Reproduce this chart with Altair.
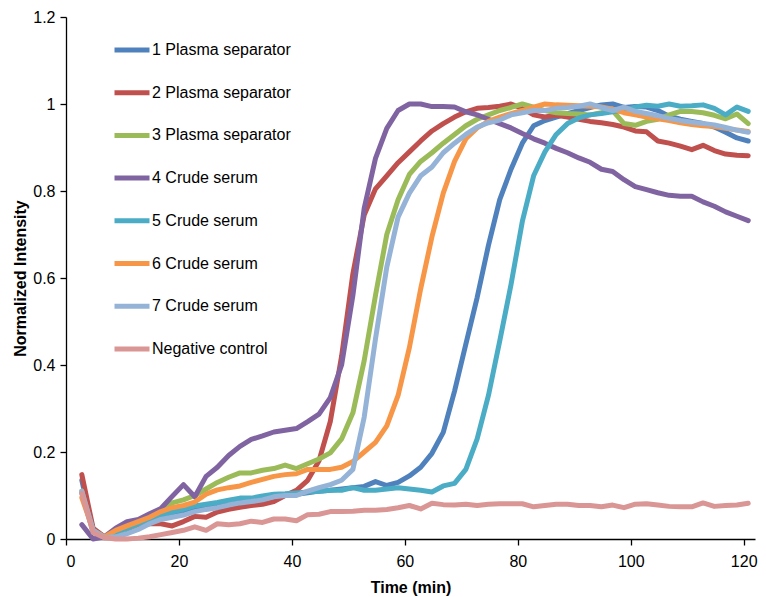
import altair as alt
import pandas as pd

times = [2.8, 4.8, 6.8, 8.8, 10.8, 12.8, 14.8, 16.8, 18.8, 20.8,
         22.8, 24.8, 26.8, 28.8, 30.8, 32.8, 34.8, 36.8, 38.8, 40.8,
         42.8, 44.8, 46.8, 48.8, 50.8, 52.8, 54.8, 56.8, 58.8, 60.8,
         62.8, 64.8, 66.8, 68.8, 70.8, 72.8, 74.8, 76.8, 78.8, 80.8,
         82.8, 84.8, 86.8, 88.8, 90.8, 92.8, 94.8, 96.8, 98.8, 100.8,
         102.8, 104.8, 106.8, 108.8, 110.8, 112.8, 114.8, 116.8, 118.8, 120.8]

s1_plasma = [0.135, 0.02, 0.005, 0.012, 0.022, 0.03, 0.04, 0.05, 0.055, 0.06,
             0.066, 0.072, 0.076, 0.081, 0.086, 0.088, 0.092, 0.097, 0.1, 0.103,
             0.106, 0.11, 0.112, 0.115, 0.118, 0.121, 0.132, 0.123, 0.13, 0.145,
             0.165, 0.197, 0.245, 0.34, 0.448, 0.555, 0.675, 0.78, 0.85, 0.91,
             0.95, 0.962, 0.97, 0.978, 0.985, 0.992, 0.998, 1.0, 0.992, 0.994,
             0.993, 0.985, 0.972, 0.965, 0.96, 0.955, 0.947, 0.935, 0.922, 0.915]

s2_plasma = [0.148, 0.025, 0.005, 0.015, 0.025, 0.03, 0.035, 0.035, 0.03, 0.04,
             0.052, 0.05, 0.062, 0.068, 0.073, 0.077, 0.08, 0.086, 0.1, 0.112,
             0.135, 0.18, 0.27, 0.42, 0.61, 0.745, 0.805, 0.835, 0.865, 0.89,
             0.915, 0.938, 0.955, 0.97, 0.982, 0.99, 0.992, 0.995, 1.0, 0.99,
             0.975, 0.97, 0.974, 0.97, 0.965, 0.96, 0.957, 0.953, 0.947, 0.938,
             0.936, 0.915, 0.91, 0.903, 0.895, 0.905, 0.893, 0.885, 0.882, 0.881]

s3_plasma = [0.11, 0.015, 0.005, 0.015, 0.025, 0.035, 0.05, 0.065, 0.083, 0.09,
             0.1, 0.115, 0.13, 0.142, 0.152, 0.152, 0.158, 0.162, 0.17, 0.162,
             0.173, 0.184, 0.198, 0.23, 0.29, 0.41, 0.56, 0.70, 0.78, 0.838,
             0.868, 0.888, 0.91, 0.93, 0.95, 0.965, 0.975, 0.985, 0.992, 1.0,
             0.993, 0.985, 0.98, 0.978, 0.977, 0.975, 0.98, 0.985, 0.955, 0.951,
             0.96, 0.965, 0.975, 0.983, 0.983, 0.98, 0.974, 0.966, 0.977, 0.955]

s4_serum = [0.033, 0.0, 0.005, 0.025, 0.04, 0.045, 0.058, 0.07, 0.098, 0.125,
            0.097, 0.144, 0.165, 0.192, 0.213, 0.229, 0.237, 0.246, 0.25, 0.254,
            0.27, 0.287, 0.325, 0.40, 0.56, 0.76, 0.875, 0.944, 0.985, 1.0,
            1.0, 0.994, 0.994, 0.993, 0.982, 0.975, 0.965, 0.955, 0.945, 0.932,
            0.92, 0.91, 0.898, 0.888, 0.876, 0.866, 0.85, 0.845, 0.826, 0.81,
            0.803, 0.796, 0.79, 0.788, 0.788, 0.775, 0.765, 0.752, 0.742, 0.732]

s5_serum = [0.105, 0.02, 0.005, 0.015, 0.025, 0.035, 0.045, 0.055, 0.062, 0.068,
            0.076, 0.08, 0.084, 0.089, 0.094, 0.094, 0.099, 0.103, 0.104, 0.106,
            0.108, 0.11, 0.112, 0.112, 0.118, 0.112, 0.112, 0.115, 0.118, 0.115,
            0.112, 0.108, 0.122, 0.128, 0.16, 0.23, 0.33, 0.455, 0.585, 0.73,
            0.835, 0.89, 0.93, 0.955, 0.968, 0.975, 0.978, 0.982, 0.986, 0.993,
            0.997, 0.995, 1.0, 0.995, 0.996, 0.998, 0.99, 0.975, 0.993, 0.983]

s6_serum = [0.095, 0.02, 0.005, 0.02, 0.03, 0.04, 0.05, 0.063, 0.072, 0.077,
            0.085, 0.103, 0.113, 0.118, 0.122, 0.13, 0.137, 0.144, 0.148, 0.15,
            0.16, 0.16, 0.16, 0.165, 0.178, 0.2, 0.222, 0.26, 0.33, 0.44,
            0.575, 0.695, 0.795, 0.868, 0.92, 0.945, 0.96, 0.97, 0.978, 0.985,
            0.993, 1.0, 0.998, 0.997, 0.996, 0.995, 0.993, 0.988, 0.98, 0.975,
            0.97, 0.966, 0.962, 0.957, 0.953, 0.95, 0.948, 0.944, 0.94, 0.937]

s7_serum = [0.11, 0.02, 0.003, 0.005, 0.012, 0.022, 0.035, 0.045, 0.05, 0.055,
            0.063, 0.068, 0.072, 0.078, 0.083, 0.086, 0.09, 0.097, 0.1, 0.1,
            0.11, 0.118, 0.125, 0.135, 0.16, 0.28, 0.46, 0.625, 0.74, 0.795,
            0.835, 0.855, 0.888, 0.91, 0.93, 0.947, 0.957, 0.963, 0.975, 0.98,
            0.985, 0.985, 0.99, 0.992, 0.995, 1.0, 0.992, 0.985, 0.993, 0.983,
            0.978, 0.973, 0.967, 0.962, 0.958, 0.955, 0.952, 0.946, 0.94, 0.935]

s8_negative = [0.105, 0.015, 0.003, 0.0, 0.0, 0.002, 0.005, 0.01, 0.015, 0.02,
               0.028, 0.02, 0.035, 0.033, 0.035, 0.041, 0.038, 0.046, 0.046, 0.042,
               0.056, 0.057, 0.063, 0.063, 0.064, 0.066, 0.066, 0.068, 0.072, 0.077,
               0.069, 0.082, 0.079, 0.078, 0.08, 0.077, 0.08, 0.081, 0.081, 0.081,
               0.074, 0.077, 0.08, 0.08, 0.077, 0.077, 0.074, 0.078, 0.072, 0.08,
               0.081, 0.078, 0.075, 0.074, 0.074, 0.083, 0.075, 0.077, 0.078, 0.082]

series_names = ["1 Plasma separator", "2 Plasma separator", "3 Plasma separator",
                "4 Crude serum", "5 Crude serum", "6 Crude serum", "7 Crude serum",
                "Negative control"]
series_values = [s1_plasma, s2_plasma, s3_plasma, s4_serum, s5_serum, s6_serum,
                 s7_serum, s8_negative]
series_colors = ["#4F81BD", "#C0504D", "#9BBB59", "#8064A2", "#4BACC6", "#F79646",
                 "#95B3D7", "#D99694"]

y_ticks = [0, 0.2, 0.4, 0.6, 0.8, 1.0, 1.2]
x_ticks = [0, 20, 40, 60, 80, 100, 120]

rows = []
for k, (name, vals) in enumerate(zip(series_names, series_values)):
    for t, v in zip(times, vals):
        rows.append({"Series": name, "order": k, "Time": t, "Value": v})
df = pd.DataFrame(rows)

font = "Liberation Sans"

chart = alt.Chart(df).mark_line(
    strokeWidth=5, strokeJoin="round", strokeCap="round"
).encode(
    x=alt.X("Time:Q",
            scale=alt.Scale(domain=[0, 122], nice=False, zero=False),
            axis=alt.Axis(title="Time (min)", values=x_ticks, format="d",
                          labelPadding=8, titlePadding=10)),
    y=alt.Y("Value:Q",
            scale=alt.Scale(domain=[0, 1.2], nice=False),
            axis=alt.Axis(title="Normalized Intensity", values=y_ticks,
                          format=".1~f", labelPadding=5, titlePadding=4)),
    color=alt.Color("Series:N",
                    scale=alt.Scale(domain=series_names, range=series_colors),
                    legend=alt.Legend(orient="none", legendX=46, legendY=13,
                                      title=None, symbolType="stroke",
                                      symbolSize=1225, symbolStrokeWidth=5,
                                      labelFontSize=16, labelOffset=0,
                                      rowPadding=12.7, padding=0,
                                      labelColor="#000000", labelFont=font)),
    order=alt.Order("order:Q"),
    detail="Series:N",
).properties(
    width=689,
    height=522,
    autosize=alt.AutoSizeParams(type="none"),
    padding={"left": 58, "top": 9, "right": 3, "bottom": 58},
).configure_view(
    stroke=None
).configure_axis(
    grid=False,
    labelFont=font,
    titleFont=font,
    labelFontSize=16,
    titleFontSize=16,
    titleFontWeight="bold",
    labelColor="#000000",
    titleColor="#000000",
    domainColor="#000000",
    tickColor="#000000",
    domainWidth=1.3,
    tickWidth=1.3,
    tickSize=6,
)

chart.save("out.html", embed_options={"renderer": "svg", "actions": False})
